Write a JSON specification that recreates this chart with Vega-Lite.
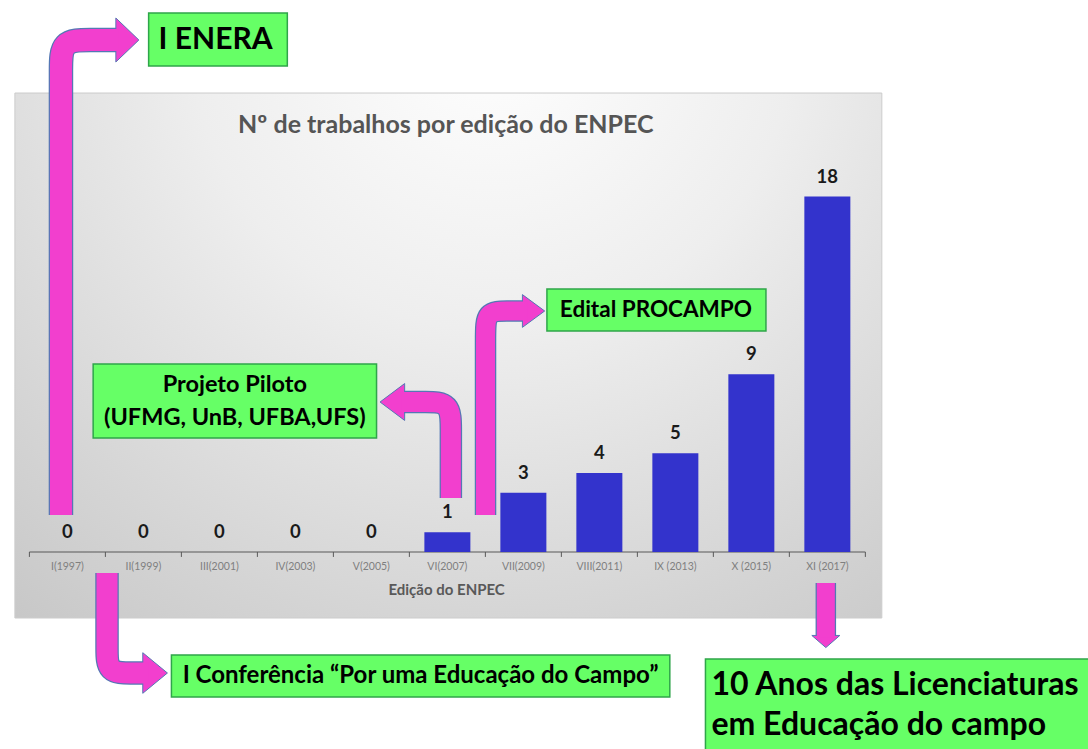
{
  "$schema": "https://vega.github.io/schema/vega-lite/v6.json",
  "width": 1088,
  "height": 749,
  "padding": 0,
  "autosize": {"type": "none"},
  "background": "white",
  "config": {"view": {"stroke": null}, "font": "Lato"},
  "datasets": {
    "enpec": [
      {"edicao": "I(1997)", "ordem": 0, "trabalhos": 0},
      {"edicao": "II(1999)", "ordem": 1, "trabalhos": 0},
      {"edicao": "III(2001)", "ordem": 2, "trabalhos": 0},
      {"edicao": "IV(2003)", "ordem": 3, "trabalhos": 0},
      {"edicao": "V(2005)", "ordem": 4, "trabalhos": 0},
      {"edicao": "VI(2007)", "ordem": 5, "trabalhos": 1},
      {"edicao": "VII(2009)", "ordem": 6, "trabalhos": 3},
      {"edicao": "VIII(2011)", "ordem": 7, "trabalhos": 4},
      {"edicao": "IX (2013)", "ordem": 8, "trabalhos": 5},
      {"edicao": "X (2015)", "ordem": 9, "trabalhos": 9},
      {"edicao": "XI (2017)", "ordem": 10, "trabalhos": 18}
    ],
    "marcas": [
      {"x": -0.5}, {"x": 0.5}, {"x": 1.5}, {"x": 2.5}, {"x": 3.5}, {"x": 4.5},
      {"x": 5.5}, {"x": 6.5}, {"x": 7.5}, {"x": 8.5}, {"x": 9.5}, {"x": 10.5}
    ],
    "setas": [
      {"seta": "a1", "seq": 1, "x": -0.0847, "y": 1.873},
      {"seta": "a1", "seq": 2, "x": -0.0847, "y": 14.278},
      {"seta": "a1", "seq": 3, "x": -0.0847, "y": 22.886},
      {"seta": "a1", "seq": 4, "x": -0.0847, "y": 24.405},
      {"seta": "a1", "seq": 5, "x": -0.0847, "y": 25.924},
      {"seta": "a1", "seq": 6, "x": 0.3, "y": 25.924},
      {"seta": "a1", "seq": 7, "x": 0.678, "y": 25.924},
      {"seta": "a2", "seq": 1, "x": 0.5215, "y": -1.063},
      {"seta": "a2", "seq": 2, "x": 0.5215, "y": -3.443},
      {"seta": "a2", "seq": 3, "x": 0.5215, "y": -4.861},
      {"seta": "a2", "seq": 4, "x": 0.5215, "y": -6.127},
      {"seta": "a2", "seq": 5, "x": 0.847, "y": -6.127},
      {"seta": "a2", "seq": 6, "x": 1.069, "y": -6.127},
      {"seta": "a3", "seq": 1, "x": 5.046, "y": 2.734},
      {"seta": "a3", "seq": 2, "x": 5.046, "y": 4.658},
      {"seta": "a3", "seq": 3, "x": 5.046, "y": 6.177},
      {"seta": "a3", "seq": 4, "x": 5.046, "y": 7.595},
      {"seta": "a3", "seq": 5, "x": 4.707, "y": 7.595},
      {"seta": "a3", "seq": 6, "x": 4.394, "y": 7.595},
      {"seta": "a4", "seq": 1, "x": 5.502, "y": 1.873},
      {"seta": "a4", "seq": 2, "x": 5.502, "y": 7.696},
      {"seta": "a4", "seq": 3, "x": 5.502, "y": 10.937},
      {"seta": "a4", "seq": 4, "x": 5.502, "y": 12.203},
      {"seta": "a4", "seq": 5, "x": 5.789, "y": 12.203},
      {"seta": "a4", "seq": 6, "x": 6.05, "y": 12.203},
      {"seta": "a5", "seq": 1, "x": 9.98, "y": -1.57},
      {"seta": "a5", "seq": 2, "x": 9.98, "y": -4.33}
    ],
    "pontas": [
      {"seta": "a1", "x": 0.789, "y": 25.924},
      {"seta": "a2", "x": 1.154, "y": -6.127},
      {"seta": "a3", "x": 4.276, "y": 7.595},
      {"seta": "a4", "x": 6.134, "y": 12.203},
      {"seta": "a5", "x": 9.98, "y": -4.532}
    ],
    "caixas": [
      {"caixa": "c1", "x": 1.069, "x2": 2.894, "y": 27.291, "y2": 24.608},
      {"caixa": "c2", "x": 0.339, "x2": 4.068, "y": 9.519, "y2": 5.772},
      {"caixa": "c3", "x": 6.31, "x2": 9.192, "y": 13.316, "y2": 11.19},
      {"caixa": "c4", "x": 1.369, "x2": 7.927, "y": -5.215, "y2": -7.342},
      {"caixa": "c5", "x": 8.396, "x2": 13.5, "y": -5.418, "y2": -10.5}
    ]
  },
  "layer": [
    {
      "data": {"values": [{"x": -0.691, "x2": 10.717, "y": 23.24, "y2": -3.342}]},
      "mark": {
        "type": "rect",
        "fill": {
          "gradient": "radial",
          "x1": 0.55, "y1": 0.12, "r1": 0,
          "x2": 0.55, "y2": 0.12, "r2": 1.0,
          "stops": [
            {"offset": 0, "color": "#ffffff"},
            {"offset": 0.35, "color": "#eeeeee"},
            {"offset": 0.7, "color": "#d4d4d4"},
            {"offset": 1, "color": "#bfbfbf"}
          ]
        },
        "stroke": "#cccccc",
        "strokeWidth": 1
      },
      "encoding": {
        "x": {"field": "x", "type": "quantitative", "scale": {"domain": [-0.821, 13.364], "nice": false, "zero": false}, "axis": null},
        "x2": {"field": "x2"},
        "y": {"field": "y", "type": "quantitative", "scale": {"domain": [-9.975, 27.95], "nice": false, "zero": false}, "axis": null},
        "y2": {"field": "y2"}
      }
    },
    {
      "data": {"values": [{"titulo": "Nº de trabalhos por edição do ENPEC"}]},
      "mark": {"type": "text", "font": "Lato", "fontWeight": "bold", "fontSize": 25, "color": "#555555", "baseline": "middle", "align": "center"},
      "encoding": {
        "x": {"datum": 4.98, "type": "quantitative", "scale": {"domain": [-0.821, 13.364], "nice": false, "zero": false}, "axis": null},
        "y": {"datum": 21.62, "type": "quantitative", "scale": {"domain": [-9.975, 27.95], "nice": false, "zero": false}, "axis": null},
        "text": {"field": "titulo"}
      }
    },
    {
      "data": {"values": [{"x": -0.5, "x2": 10.5, "y": 0}]},
      "mark": {"type": "rule", "color": "#595959", "strokeWidth": 1.2},
      "encoding": {
        "x": {"field": "x", "type": "quantitative", "scale": {"domain": [-0.821, 13.364], "nice": false, "zero": false}, "axis": null},
        "x2": {"field": "x2"},
        "y": {"field": "y", "type": "quantitative", "scale": {"domain": [-9.975, 27.95], "nice": false, "zero": false}, "axis": null}
      }
    },
    {
      "data": {"name": "marcas"},
      "mark": {"type": "rule", "color": "#595959", "strokeWidth": 1},
      "encoding": {
        "x": {"field": "x", "type": "quantitative", "scale": {"domain": [-0.821, 13.364], "nice": false, "zero": false}, "axis": null},
        "y": {"datum": 0, "type": "quantitative", "scale": {"domain": [-9.975, 27.95], "nice": false, "zero": false}, "axis": null},
        "y2": {"datum": -0.25}
      }
    },
    {
      "data": {"name": "enpec"},
      "mark": {"type": "bar", "size": 46, "color": "#3333CC"},
      "encoding": {
        "x": {"field": "ordem", "type": "quantitative", "scale": {"domain": [-0.821, 13.364], "nice": false, "zero": false}, "axis": null},
        "y": {"field": "trabalhos", "type": "quantitative", "scale": {"domain": [-9.975, 27.95], "nice": false, "zero": false}, "axis": null}
      }
    },
    {
      "data": {"name": "enpec"},
      "mark": {"type": "text", "font": "Lato", "fontWeight": "bold", "fontSize": 18.5, "color": "#1a1a1a", "baseline": "middle", "dy": -20},
      "encoding": {
        "x": {"field": "ordem", "type": "quantitative", "scale": {"domain": [-0.821, 13.364], "nice": false, "zero": false}, "axis": null},
        "y": {"field": "trabalhos", "type": "quantitative", "scale": {"domain": [-9.975, 27.95], "nice": false, "zero": false}, "axis": null},
        "text": {"field": "trabalhos"}
      }
    },
    {
      "data": {"name": "enpec"},
      "mark": {"type": "text", "font": "Lato", "fontSize": 10.5, "color": "#7f7f7f", "baseline": "middle"},
      "encoding": {
        "x": {"field": "ordem", "type": "quantitative", "scale": {"domain": [-0.821, 13.364], "nice": false, "zero": false}, "axis": null},
        "y": {"datum": -0.76, "type": "quantitative", "scale": {"domain": [-9.975, 27.95], "nice": false, "zero": false}, "axis": null},
        "text": {"field": "edicao"}
      }
    },
    {
      "data": {"values": [{"titulo": "Edição do ENPEC"}]},
      "mark": {"type": "text", "font": "Lato", "fontWeight": "bold", "fontSize": 15, "color": "#595959", "baseline": "middle"},
      "encoding": {
        "x": {"datum": 4.99, "type": "quantitative", "scale": {"domain": [-0.821, 13.364], "nice": false, "zero": false}, "axis": null},
        "y": {"datum": -1.92, "type": "quantitative", "scale": {"domain": [-9.975, 27.95], "nice": false, "zero": false}, "axis": null},
        "text": {"field": "titulo"}
      }
    },
    {
      "data": {"name": "setas"},
      "mark": {"type": "line", "interpolate": "basis", "strokeCap": "butt", "color": "#5478B4"},
      "encoding": {
        "x": {"field": "x", "type": "quantitative", "scale": {"domain": [-0.821, 13.364], "nice": false, "zero": false}, "axis": null},
        "y": {"field": "y", "type": "quantitative", "scale": {"domain": [-9.975, 27.95], "nice": false, "zero": false}, "axis": null},
        "detail": {"field": "seta", "type": "nominal"},
        "order": {"field": "seq", "type": "quantitative"},
        "strokeWidth": {"field": "seta", "type": "ordinal", "scale": {"domain": ["a1", "a2", "a3", "a4", "a5"], "range": [24.5, 20.5, 22.5, 18.5, 15.5]}, "legend": null}
      }
    },
    {
      "data": {"name": "pontas"},
      "mark": {"type": "point", "filled": true, "opacity": 1, "fill": "#F23FCE", "stroke": "#5478B4", "strokeWidth": 1},
      "encoding": {
        "x": {"field": "x", "type": "quantitative", "scale": {"domain": [-0.821, 13.364], "nice": false, "zero": false}, "axis": null},
        "y": {"field": "y", "type": "quantitative", "scale": {"domain": [-9.975, 27.95], "nice": false, "zero": false}, "axis": null},
        "shape": {"field": "seta", "type": "nominal", "scale": {"domain": ["a1", "a2", "a3", "a4", "a5"], "range": ["M0.523,0L-0.523,-1L-0.523,1Z", "M0.607,0L-0.607,-1L-0.607,1Z", "M-0.667,0L0.667,-1L0.667,1Z", "M0.68,0L-0.68,-1L-0.68,1Z", "M0,0.433L-1,-0.433L1,-0.433Z"]}, "legend": null},
        "size": {"field": "seta", "type": "ordinal", "scale": {"domain": ["a1", "a2", "a3", "a4", "a5"], "range": [1936, 784, 1089, 625, 900]}, "legend": null}
      }
    },
    {
      "data": {"name": "setas"},
      "mark": {"type": "line", "interpolate": "basis", "strokeCap": "butt", "color": "#F23FCE"},
      "encoding": {
        "x": {"field": "x", "type": "quantitative", "scale": {"domain": [-0.821, 13.364], "nice": false, "zero": false}, "axis": null},
        "y": {"field": "y", "type": "quantitative", "scale": {"domain": [-9.975, 27.95], "nice": false, "zero": false}, "axis": null},
        "detail": {"field": "seta", "type": "nominal"},
        "order": {"field": "seq", "type": "quantitative"},
        "strokeWidth": {"field": "seta", "type": "ordinal", "scale": {"domain": ["a1", "a2", "a3", "a4", "a5"], "range": [22, 18, 20, 16, 13]}, "legend": null}
      }
    },
    {
      "data": {"name": "caixas"},
      "mark": {"type": "rect", "fill": "#66FF66", "stroke": "#2FA54A", "strokeWidth": 1.5, "clip": true},
      "encoding": {
        "x": {"field": "x", "type": "quantitative", "scale": {"domain": [-0.821, 13.364], "nice": false, "zero": false}, "axis": null},
        "x2": {"field": "x2"},
        "y": {"field": "y", "type": "quantitative", "scale": {"domain": [-9.975, 27.95], "nice": false, "zero": false}, "axis": null},
        "y2": {"field": "y2"}
      }
    },
    {
      "data": {"values": [{"texto": "I ENERA", "x": 1.95, "y": 25.924}]},
      "mark": {"type": "text", "font": "Lato", "fontWeight": "bold", "fontSize": 30, "color": "#000000", "baseline": "middle", "align": "center"},
      "encoding": {
        "x": {"field": "x", "type": "quantitative", "scale": {"domain": [-0.821, 13.364], "nice": false, "zero": false}, "axis": null},
        "y": {"field": "y", "type": "quantitative", "scale": {"domain": [-9.975, 27.95], "nice": false, "zero": false}, "axis": null},
        "text": {"field": "texto"}
      }
    },
    {
      "data": {"values": [
        {"texto": "Projeto Piloto", "x": 2.203, "y": 8.456},
        {"texto": "(UFMG, UnB, UFBA,UFS)", "x": 2.203, "y": 6.785}
      ]},
      "mark": {"type": "text", "font": "Lato", "fontWeight": "bold", "fontSize": 23.5, "color": "#000000", "baseline": "middle", "align": "center"},
      "encoding": {
        "x": {"field": "x", "type": "quantitative", "scale": {"domain": [-0.821, 13.364], "nice": false, "zero": false}, "axis": null},
        "y": {"field": "y", "type": "quantitative", "scale": {"domain": [-9.975, 27.95], "nice": false, "zero": false}, "axis": null},
        "text": {"field": "texto"}
      }
    },
    {
      "data": {"values": [
        {"texto": "Edital PROCAMPO", "x": 7.744, "y": 12.253}
      ]},
      "mark": {"type": "text", "font": "Lato", "fontWeight": "bold", "fontSize": 22.5, "color": "#000000", "baseline": "middle", "align": "center"},
      "encoding": {
        "x": {"field": "x", "type": "quantitative", "scale": {"domain": [-0.821, 13.364], "nice": false, "zero": false}, "axis": null},
        "y": {"field": "y", "type": "quantitative", "scale": {"domain": [-9.975, 27.95], "nice": false, "zero": false}, "axis": null},
        "text": {"field": "texto"}
      }
    },
    {
      "data": {"values": [
        {"texto": "I Conferência “Por uma Educação do Campo”", "x": 4.648, "y": -6.278}
      ]},
      "mark": {"type": "text", "font": "Lato", "fontWeight": "bold", "fontSize": 24, "color": "#000000", "baseline": "middle", "align": "center"},
      "encoding": {
        "x": {"field": "x", "type": "quantitative", "scale": {"domain": [-0.821, 13.364], "nice": false, "zero": false}, "axis": null},
        "y": {"field": "y", "type": "quantitative", "scale": {"domain": [-9.975, 27.95], "nice": false, "zero": false}, "axis": null},
        "text": {"field": "texto"}
      }
    },
    {
      "data": {"values": [
        {"texto": "10 Anos das Licenciaturas", "x": 8.475, "y": -6.734},
        {"texto": "em Educação do campo", "x": 8.475, "y": -8.74}
      ]},
      "mark": {"type": "text", "font": "Lato", "fontWeight": "bold", "fontSize": 32, "color": "#000000", "baseline": "middle", "align": "left"},
      "encoding": {
        "x": {"field": "x", "type": "quantitative", "scale": {"domain": [-0.821, 13.364], "nice": false, "zero": false}, "axis": null},
        "y": {"field": "y", "type": "quantitative", "scale": {"domain": [-9.975, 27.95], "nice": false, "zero": false}, "axis": null},
        "text": {"field": "texto"}
      }
    }
  ],
  "resolve": {"scale": {"strokeWidth": "independent"}}
}
